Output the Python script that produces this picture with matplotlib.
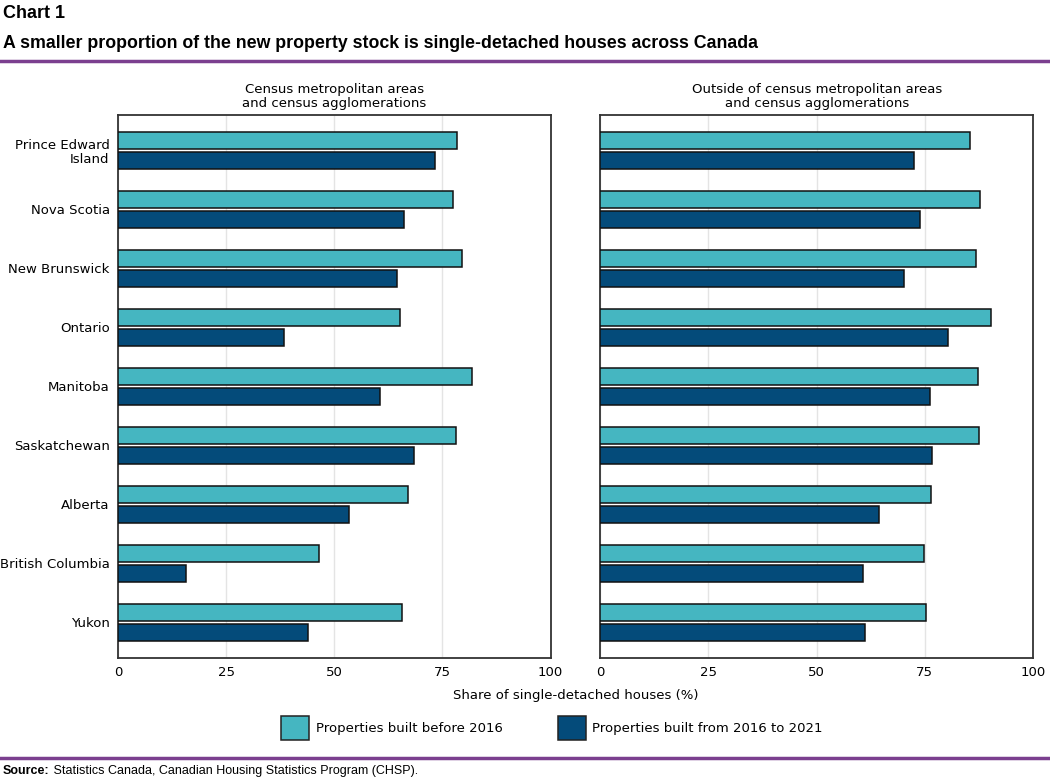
import numpy
import matplotlib
matplotlib.use("Agg")
import matplotlib.pyplot as pyplot
from matplotlib.patches import Patch
from matplotlib.lines import Line2D

pyplot.rc("font", family="DejaVu Sans", size=9.5)

provinces = ["Prince Edward\nIsland", "Nova Scotia", "New Brunswick", "Ontario",
             "Manitoba", "Saskatchewan", "Alberta", "British Columbia", "Yukon"]

cmaBefore = [78.4, 77.4, 79.5, 65.1, 81.8, 78.1, 67.0, 46.4, 65.6]
cmaNew    = [73.2, 66.1, 64.4, 38.3, 60.6, 68.4, 53.4, 15.7, 43.9]

outBefore = [85.5, 87.7, 86.8, 90.3, 87.3, 87.5, 76.4, 74.8, 75.2]
outNew    = [72.5, 74.0, 70.1, 80.4, 76.1, 76.6, 64.3, 60.6, 61.1]

panelTitles = ["Census metropolitan areas\nand census agglomerations",
               "Outside of census metropolitan areas\nand census agglomerations"]
seriesNames = ["Properties built before 2016", "Properties built from 2016 to 2021"]
xTicks = [0, 25, 50, 75, 100]

colorBefore = "#45b6c1"
colorNew = "#044b7a"
purple = "#7b3f8f"
titleFont = ["Liberation Sans Narrow", "Liberation Sans"]

figure = pyplot.figure(figsize=(10.5, 7.83), dpi=100)

W, H = 1050.0, 783.0
def box(x0, y0, x1, y1):
    return [x0 / W, 1 - y1 / H, (x1 - x0) / W, (y1 - y0) / H]

axesLeft = figure.add_axes(box(118, 115, 550.5, 657.5))
axesRight = figure.add_axes(box(600.3, 115, 1033, 657.5))

positions = numpy.arange(len(provinces))
barHeight = 0.29
offset = 0.17

for axes, before, new, title in [(axesLeft, cmaBefore, cmaNew, panelTitles[0]),
                                 (axesRight, outBefore, outNew, panelTitles[1])]:
    axes.barh(positions - offset, before, height=barHeight, color=colorBefore,
              edgecolor="#111111", linewidth=1.1, zorder=3)
    axes.barh(positions + offset, new, height=barHeight, color=colorNew,
              edgecolor="#111111", linewidth=1.1, zorder=3)
    axes.set_xlim(0, 100)
    axes.set_ylim(len(provinces) - 0.4, -0.6)
    axes.set_xticks(xTicks)
    axes.set_yticks(positions)
    axes.grid(axis="x", color="#e4e4e4", linewidth=1.0, zorder=0)
    axes.tick_params(axis="both", length=0, pad=6, labelsize=9.5)
    for spine in axes.spines.values():
        spine.set_color("#333333")
        spine.set_linewidth(1.3)
    axes.set_title(title, fontsize=9.5, linespacing=1.05, pad=6)

axesLeft.set_yticklabels(provinces, linespacing=1.1)
axesRight.set_yticklabels([])

figure.text(575.5 / W, 1 - 695 / H, "Share of single-detached houses (%)",
            ha="center", va="center", fontsize=9.5)

handles = [Patch(facecolor=colorBefore, edgecolor="#222222", linewidth=1.1),
           Patch(facecolor=colorNew, edgecolor="#222222", linewidth=1.1)]
figure.legend(handles, seriesNames, loc="center", bbox_to_anchor=(552 / W, 1 - 728 / H),
              ncol=2, frameon=False, fontsize=9.5, handlelength=2.1, handleheight=2.35,
              handletextpad=0.5, columnspacing=4.2)

figure.text(3 / W, 1 - 13 / H, "Chart 1", ha="left", va="center",
            fontsize=13, fontweight="bold", family=titleFont)
figure.text(3 / W, 1 - 44 / H,
            "A smaller proportion of the new property stock is single-detached houses across Canada",
            ha="left", va="center", fontsize=12.8, fontweight="bold", family=titleFont)

for yLine in [60.5, 757.5]:
    figure.add_artist(Line2D([0, 1], [1 - yLine / H, 1 - yLine / H], color=purple,
                             linewidth=2.5, transform=figure.transFigure))

sourceLabel = figure.text(3 / W, 1 - 771 / H, "Source:", ha="left", va="center",
                          fontsize=9, fontweight="bold", family=titleFont)
axesLeft.annotate(" Statistics Canada, Canadian Housing Statistics Program (CHSP).",
                  xy=(1, 0.5), xycoords=sourceLabel, ha="left", va="center",
                  fontsize=9, family=titleFont, annotation_clip=False)

figure.savefig("out.png", dpi=100)
